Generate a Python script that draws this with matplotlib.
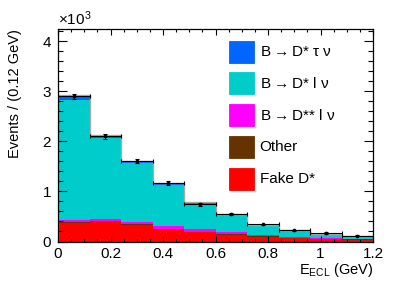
import numpy as np
import matplotlib
matplotlib.use('Agg')
import matplotlib.pyplot as plt
from matplotlib.patches import Rectangle
from matplotlib.ticker import MultipleLocator

plt.rcParams['font.family'] = ['Liberation Sans', 'DejaVu Sans']
plt.rcParams['mathtext.default'] = 'regular'

# bin edges in GeV (0.12 GeV bins)
edges = np.round(np.arange(0, 1.2001, 0.12), 2)

# stacked components, events per bin
fake_dstar = [370, 390, 335, 235, 185, 135, 95, 65, 55, 38]
other = [12, 12, 10, 8, 7, 6, 5, 4, 4, 3]
b_dss_lnu = [40, 50, 45, 65, 48, 50, 30, 20, 20, 18]
b_ds_lnu = [2400, 1610, 1170, 830, 515, 330, 180, 130, 70, 40]
b_ds_taunu = [100, 60, 50, 40, 25, 20, 20, 10, 10, 10]

# data points
data = [2900, 2100, 1610, 1170, 740, 550, 340, 220, 170, 110]
data_err = [54, 46, 40, 34, 27, 23, 18, 15, 13, 10]

labels = [r'B$\rightarrow$D* $\tau$ $\nu$', r'B$\rightarrow$D* l $\nu$',
          r'B$\rightarrow$D** l $\nu$', 'Other', 'Fake D*']
colors = ['#0066ff', '#00cccc', '#ff00ff', '#663300', '#ff0000']

fig = plt.figure(figsize=(4.15, 2.82), dpi=100)
ax = fig.add_axes([0.1398, 0.1436, 0.7590, 0.7525])

# stack from bottom: fake, other, D**, D*lnu, D*taunu
stack = [fake_dstar, other, b_dss_lnu, b_ds_lnu, b_ds_taunu]
stack_cols = ['#ff0000', '#663300', '#ff00ff', '#00cccc', '#0066ff']
bottom = np.zeros(len(data))
for vals, c in zip(stack, stack_cols):
    v = np.array(vals) / 1e3
    ax.bar(edges[:-1], v, width=0.12, bottom=bottom, align='edge', color=c, linewidth=0)
    bottom = bottom + v

ax.stairs(bottom, edges, color='#aaaaaa', linewidth=1.0)

centers = (edges[:-1] + edges[1:]) / 2
ax.errorbar(centers, np.array(data) / 1e3, xerr=0.06, yerr=np.array(data_err) / 1e3,
            fmt='o', ms=1.6, color='black', elinewidth=0.8, capsize=1.5, capthick=0.8)

ax.set_xlim(0, 1.2)
ax.set_ylim(0, 4.24)
ax.xaxis.set_major_locator(MultipleLocator(0.2))
ax.xaxis.set_minor_locator(MultipleLocator(0.05))
ax.yaxis.set_major_locator(MultipleLocator(1))
ax.yaxis.set_minor_locator(MultipleLocator(0.2))
ax.set_xticks([0, 0.2, 0.4, 0.6, 0.8, 1.0, 1.2])
ax.set_xticklabels(['0', '0.2', '0.4', '0.6', '0.8', '1', '1.2'])
ax.tick_params(axis='both', which='both', direction='in', top=True, right=True,
               labelsize=11, width=0.8, colors='black')
ax.tick_params(axis='x', which='major', length=4.6, pad=4)
ax.tick_params(axis='x', which='minor', length=2.3)
ax.tick_params(axis='y', which='major', length=6.8, pad=5)
ax.tick_params(axis='y', which='minor', length=3.4)
for s in ax.spines.values():
    s.set_linewidth(0.9)

ax.set_ylabel('Events / (0.12 GeV)', loc='top', fontsize=10.5, labelpad=15)
ax.set_xlabel('E$_{ECL}$ (GeV)', loc='right', fontsize=10.5, labelpad=0)
ax.text(0.0, 1.005, '\u00d710$^{3}$', transform=ax.transAxes, fontsize=11, ha='left', va='bottom')

# legend drawn by hand, ROOT style
ys = [0.895, 0.745, 0.595, 0.445, 0.295]
for lab, c, y in zip(labels, colors, ys):
    ax.add_patch(Rectangle((0.543, y - 0.052), 0.079, 0.104, transform=ax.transAxes,
                           facecolor=c, edgecolor=c, linewidth=0.6, alpha=1, zorder=5))
    ax.text(0.64, y, lab, transform=ax.transAxes, fontsize=11, va='center', ha='left', zorder=5)

fig.savefig('out.png', dpi=100)
